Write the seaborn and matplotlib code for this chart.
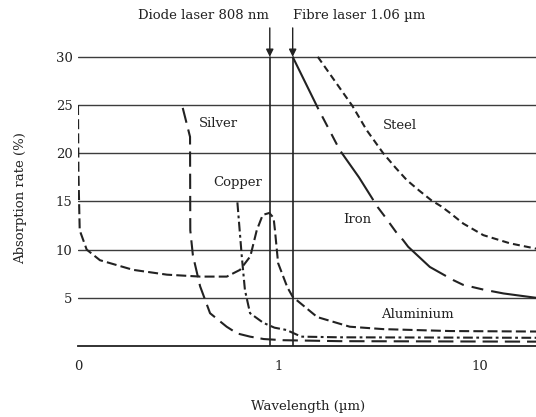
import numpy as np
import pandas as pd
import matplotlib
matplotlib.use("Agg")
import matplotlib.pyplot as plt
import seaborn as sns

# ---- data ----
al_x = [0.1, 0.1005, 0.102, 0.1105, 0.1286, 0.188, 0.277, 0.405, 0.55, 0.64, 0.72, 0.775,
        0.83, 0.895, 0.94, 0.955, 0.99, 1.10, 1.17, 1.55, 2.25, 3.3, 7.1, 19.0]
al_y = [25.0, 18.0, 12.0, 10.0, 8.9, 7.9, 7.4, 7.2, 7.2, 7.9, 9.3, 12.0,
        13.6, 13.8, 13.3, 12.0, 8.6, 6.1, 5.1, 3.0, 2.0, 1.75, 1.55, 1.5]

ag_x = [0.332, 0.361, 0.362, 0.373, 0.405, 0.454, 0.549, 0.62, 0.718, 0.84, 1.047, 2.0, 19.0]
ag_y = [24.7, 21.7, 12.0, 9.4, 6.2, 3.4, 2.0, 1.3, 0.97, 0.72, 0.6, 0.5, 0.45]

cu_x = [0.621, 0.653, 0.677, 0.718, 0.836, 0.95, 1.09, 1.29, 2.0, 19.0]
cu_y = [14.9, 9.3, 5.8, 3.4, 2.4, 1.9, 1.66, 0.97, 0.9, 0.85]

fe_x = [1.17, 1.56, 2.01, 2.5, 3.10, 3.37, 3.86, 4.14, 4.39, 5.63, 7.34, 8.23, 10.4, 13.1, 19.0]
fe_y = [30.0, 24.7, 20.3, 17.5, 14.4, 13.4, 11.7, 11.0, 10.3, 8.2, 6.85, 6.35, 5.85, 5.45, 5.0]

st_x = [1.56, 2.32, 2.73, 3.30, 3.8, 4.33, 5.0, 5.74, 6.4, 7.10, 8.26, 10.39, 14.1, 19.0]
st_y = [30.0, 24.9, 22.4, 20.0, 18.5, 17.2, 16.1, 15.1, 14.5, 13.8, 12.7, 11.5, 10.65, 10.1]

laser_x = [0.90, 1.17]
laser_labels = ["Diode laser 808 nm", "Fibre laser 1.06 \u00b5m"]

curve_labels = ["Silver", "Steel", "Copper", "Iron", "Aluminium"]
curve_label_x = [0.40, 3.27, 0.469, 2.08, 3.21]
curve_label_y = [23.1, 22.9, 17.0, 13.1, 3.3]

xtick_vals = [0.1, 1, 10]
xtick_text = ["0", "1", "10"]
ytick_vals = [5, 10, 15, 20, 25, 30]

# ---- style ----
sns.set_style("white")
plt.rcParams["font.family"] = ["DejaVu Serif"]
plt.rcParams["lines.scale_dashes"] = False
ink = "#222222"
fs = 9.5

fig = plt.figure(figsize=(5.36, 4.17), dpi=100)
ax = fig.add_axes([0.1455, 0.1703, 0.8545, 0.7165])

styles = {
    "al": (0, (7.2, 3.0)),
    "ag": (0, (11.0, 5.0)),
    "cu": (0, (7.0, 2.5, 2.0, 2.5)),
    "fe": (0, (42.0, 5.8, 8.6, 5.8, 8.6, 5.8)),
    "st": (0, (5.0, 3.0)),
}
series = [("al", al_x, al_y), ("ag", ag_x, ag_y), ("cu", cu_x, cu_y),
          ("fe", fe_x, fe_y), ("st", st_x, st_y)]
for key, xs, ys in series:
    df = pd.DataFrame({"x": xs, "y": ys})
    sns.lineplot(data=df, x="x", y="y", ax=ax, color=ink, lw=1.5, sort=False,
                 estimator=None)
    ax.lines[-1].set_linestyle(styles[key])
    ax.lines[-1].set_solid_joinstyle("round")
    ax.lines[-1].set_dash_joinstyle("round")

ax.set_xscale("log")
ax.set_xlim(0.1, 19.0)
ax.set_ylim(0, 31)

# grid
ax.set_yticks(ytick_vals)
ax.yaxis.grid(True, color="#3c3c3c", lw=1.0)
ax.xaxis.grid(False)
ax.set_axisbelow(True)
ax.tick_params(axis="y", length=0, pad=4, labelsize=fs, colors=ink)

ax.set_xticks(xtick_vals)
ax.set_xticklabels(xtick_text)
ax.xaxis.set_minor_locator(matplotlib.ticker.FixedLocator(
    [0.2, 0.3, 0.4, 0.5, 0.6, 0.7, 0.8, 0.9, 2, 3, 4, 5, 6, 7, 8, 9]))
ax.xaxis.set_minor_formatter(matplotlib.ticker.NullFormatter())
ax.tick_params(axis="x", which="both", direction="in", length=4.5, width=1.0,
               color=ink, pad=10, labelsize=fs, labelcolor=ink)

for s in ["left", "right", "top"]:
    ax.spines[s].set_visible(False)
ax.spines["bottom"].set_color(ink)
ax.spines["bottom"].set_linewidth(1.3)

# laser lines and arrows
for lx in laser_x:
    ax.plot([lx, lx], [0, 30], color=ink, lw=1.2, zorder=3)
    ax.annotate("", xy=(lx, 30), xytext=(lx, 33.0), annotation_clip=False,
                arrowprops=dict(arrowstyle="-|>", color=ink, lw=1.0,
                                mutation_scale=11, shrinkA=0, shrinkB=0))
ax.text(laser_x[0] - 0.005, 34.3, laser_labels[0], ha="right", va="center",
        fontsize=fs, color=ink, clip_on=False)
ax.text(laser_x[1], 34.3, laser_labels[1], ha="left", va="center",
        fontsize=fs, color=ink, clip_on=False)

for t, lx, ly in zip(curve_labels, curve_label_x, curve_label_y):
    ax.text(lx, ly, t, ha="left", va="center", fontsize=fs, color=ink)

ax.set_xlabel("Wavelength (\u00b5m)", fontsize=fs, color=ink)
ax.set_ylabel("Absorption rate (%)", fontsize=fs, color=ink)
ax.xaxis.set_label_coords(0.502, -0.181)
ax.yaxis.set_label_coords(-0.1113, 0.495)

fig.savefig("out.png", dpi=100)
